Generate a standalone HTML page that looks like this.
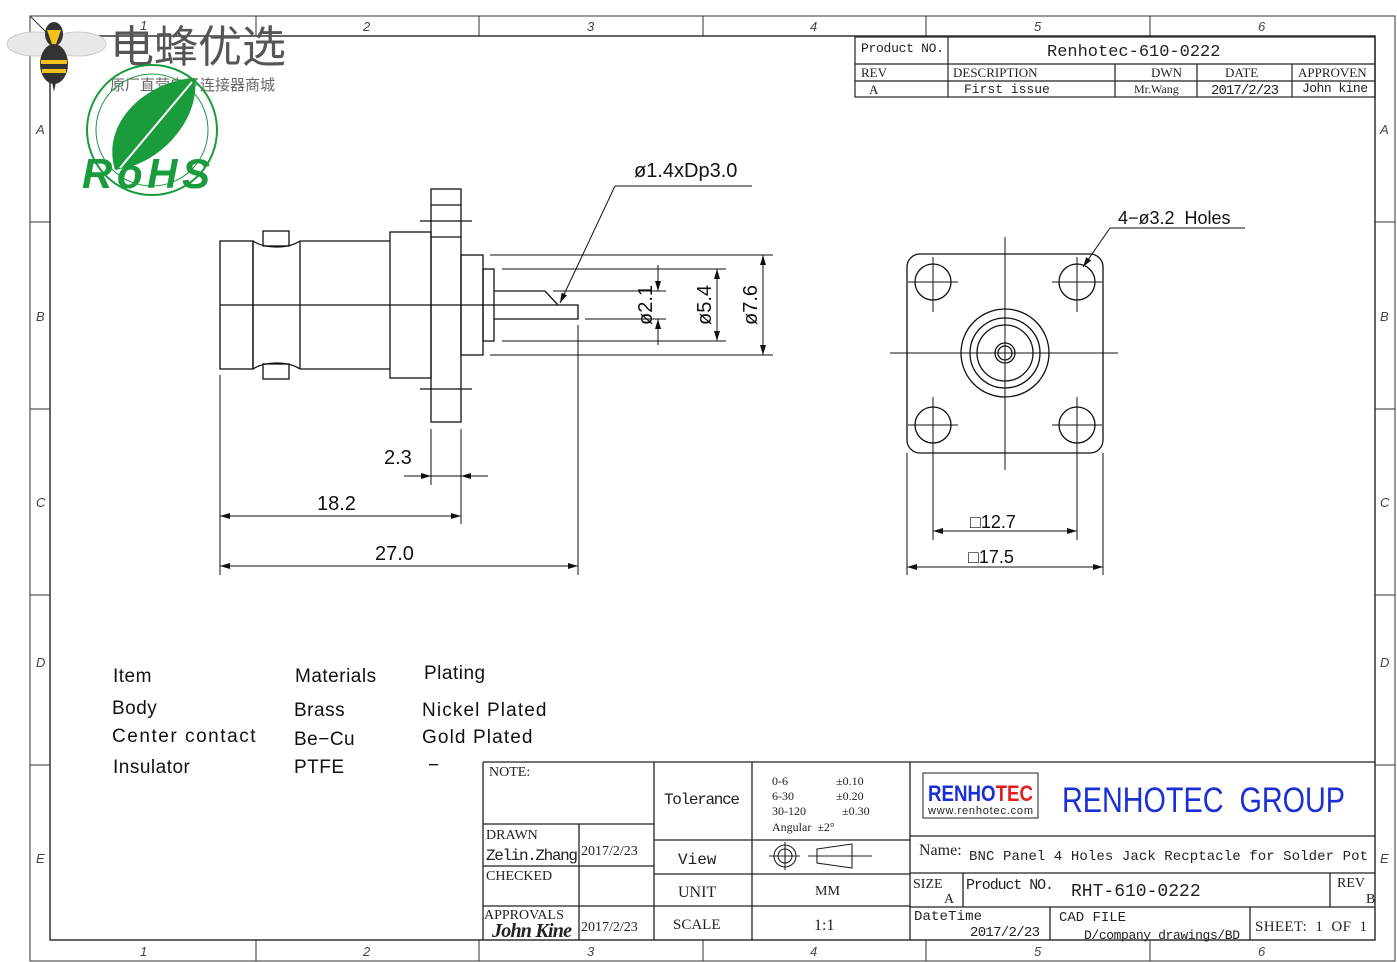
<!DOCTYPE html>
<html><head><meta charset="utf-8"><style>
html,body{margin:0;padding:0;background:#fff;}
svg{display:block;font-family:"Liberation Sans","Noto Sans CJK SC",sans-serif;}
</style></head><body>
<svg width="1397" height="962" viewBox="0 0 1397 962" xmlns="http://www.w3.org/2000/svg">
<defs>
<marker id="ar" viewBox="0 0 10 6" refX="10" refY="3" markerWidth="10" markerHeight="6" orient="auto-start-reverse" markerUnits="userSpaceOnUse"><path d="M0,0 L10,3 L0,6 Z" fill="#111"/></marker>
</defs>
<g fill="none" stroke="#333" stroke-width="1">
<rect x="30" y="16" width="1365" height="945"/>
<rect x="50" y="36" width="1325" height="904" stroke-width="1.5"/>
<path d="M256,16V36 M479,16V36 M703,16V36 M926,16V36 M1150,16V36 M256,940V961 M479,940V961 M703,940V961 M926,940V961 M1150,940V961"/>
<path d="M30,222H50 M30,409H50 M30,595H50 M30,765H50 M1375,222H1395 M1375,409H1395 M1375,595H1395 M1375,765H1395"/>
<path d="M30,16L50,36"/>
</g>
<g font-size="13" fill="#444" font-style="italic">
<text x="140" y="30">1</text><text x="363" y="31">2</text><text x="587" y="31">3</text><text x="810" y="31">4</text><text x="1034" y="31">5</text><text x="1258" y="31">6</text>
<text x="140" y="956">1</text><text x="363" y="956">2</text><text x="587" y="956">3</text><text x="810" y="956">4</text><text x="1034" y="956">5</text><text x="1258" y="956">6</text>
<text x="36" y="134">A</text><text x="36" y="321">B</text><text x="36" y="507">C</text><text x="36" y="667">D</text><text x="36" y="863">E</text>
<text x="1380" y="134">A</text><text x="1380" y="321">B</text><text x="1380" y="507">C</text><text x="1380" y="667">D</text><text x="1380" y="863">E</text>
</g>

<!-- logos -->
<g>
<ellipse cx="35" cy="44" rx="28" ry="12" fill="#e8e8e8" stroke="#ccc"/>
<ellipse cx="78" cy="44" rx="28" ry="12" fill="#e8e8e8" stroke="#ccc"/>
<ellipse cx="54" cy="34" rx="9" ry="12" fill="#333"/>
<path d="M47,30 L54,50 L61,30 Z" fill="#f2c21b"/>
<ellipse cx="54" cy="64" rx="14" ry="20" fill="#333"/>
<rect x="41" y="60" width="26" height="4" fill="#f2c21b"/><rect x="42" y="69" width="24" height="4" fill="#f2c21b"/>
<path d="M52,82 L54,92 L56,82Z" fill="#333"/>
<text x="110" y="62" font-size="44" fill="#555">电蜂优选</text>
<text x="110" y="90" font-size="15" fill="#666">原厂直营电子连接器商城</text>
<circle cx="152" cy="130" r="65" fill="none" stroke="#1a9b3c" stroke-width="2"/>
<circle cx="152" cy="130" r="56" fill="none" stroke="#1a9b3c" stroke-width="1"/>
<path d="M115,170 C100,120 150,80 195,78 C200,120 160,165 115,170Z" fill="#1a9b3c"/>
<path d="M120,168 L192,82" stroke="#fff" stroke-width="2"/>
<text x="82" y="188" font-size="42" font-weight="bold" font-style="italic" fill="#1a9b3c" textLength="128">RoHS</text>
</g>

<!-- top rev block -->
<g fill="none" stroke="#222" stroke-width="1.2">
<rect x="855" y="37" width="520" height="60"/>
<path d="M855,64H1375 M855,81H1375 M948,37V97 M1115,64V97 M1197,64V97 M1292,64V97"/>
</g>
<g fill="#222">
<text x="861" y="52" font-size="13" font-family="Liberation Mono" textLength="83">Product NO.</text>
<text x="1047" y="56" font-size="17" font-family="Liberation Mono">Renhotec-610-0222</text>
<text x="861" y="77" font-size="13" font-family="Liberation Serif">REV</text>
<text x="953" y="77" font-size="13" font-family="Liberation Serif">DESCRIPTION</text>
<text x="1151" y="77" font-size="13" font-family="Liberation Serif">DWN</text>
<text x="1225" y="77" font-size="13" font-family="Liberation Serif">DATE</text>
<text x="1298" y="77" font-size="13" font-family="Liberation Serif">APPROVEN</text>
<text x="869" y="94" font-size="13" font-family="Liberation Serif">A</text>
<text x="964" y="93" font-size="13" font-family="Liberation Mono">First issue</text>
<text x="1134" y="93" font-size="12" font-family="Liberation Serif">Mr.Wang</text>
<text x="1211" y="94" font-size="14" font-family="Liberation Mono" textLength="68">2017/2/23</text>
<text x="1302" y="92" font-size="13" font-family="Liberation Mono" textLength="66">John kine</text>
</g>

<!-- side view -->
<g fill="none" stroke="#111" stroke-width="1.3">
<rect x="220" y="241" width="33" height="128"/>
<path d="M253,241 C265,249 288,249 300,241 M253,369 C265,361 288,361 300,369 M253,241V369 M300,241V369"/>
<rect x="263" y="231" width="26" height="15"/>
<rect x="263" y="364" width="26" height="15"/>
<path d="M300,241H390 M300,369H390"/>
<rect x="390" y="232" width="41" height="146"/>
<rect x="431" y="189" width="30" height="233"/>
<path d="M431,205H461 M431,237H461 M420,221H472 M420,389H472"/>
<rect x="461" y="255" width="22" height="100"/>
<rect x="483" y="269" width="11" height="72"/>
<path d="M494,291H545 L558,305 M494,305H578V319H494"/>
<path d="M220,305H494"/>
<path d="M490,255H773 M502,269H726 M553,291H666 M585,319H666 M502,341H726 M490,355H773" stroke-width="1"/>
<path d="M220,375V575 M578,325V575 M431,429V485 M461,429V524" stroke-width="1"/>
<path d="M658,265V291" marker-end="url(#ar)" stroke-width="1"/>
<path d="M658,345V319" marker-end="url(#ar)" stroke-width="1"/>
<path d="M717,269V341" marker-start="url(#ar)" marker-end="url(#ar)" stroke-width="1"/>
<path d="M763,255V355" marker-start="url(#ar)" marker-end="url(#ar)" stroke-width="1"/>
<path d="M615,186L560,303" marker-end="url(#ar)" stroke-width="1"/>
<path d="M615,186H752" stroke-width="1"/>
<path d="M404,476H431" marker-end="url(#ar)" stroke-width="1"/>
<path d="M488,476H461" marker-end="url(#ar)" stroke-width="1"/>
<path d="M431,476H461" stroke-width="1"/>
<path d="M220,516H461" marker-start="url(#ar)" marker-end="url(#ar)" stroke-width="1"/>
<path d="M220,566H578" marker-start="url(#ar)" marker-end="url(#ar)" stroke-width="1"/>
</g>
<g font-size="20" fill="#111">
<text x="634" y="177">ø1.4xDp3.0</text>
<text x="384" y="464">2.3</text>
<text x="317" y="510">18.2</text>
<text x="375" y="560">27.0</text>
<text transform="translate(652,305) rotate(-90)" text-anchor="middle">ø2.1</text>
<text transform="translate(711,305) rotate(-90)" text-anchor="middle">ø5.4</text>
<text transform="translate(757,305) rotate(-90)" text-anchor="middle">ø7.6</text>
</g>

<!-- front view -->
<g fill="none" stroke="#111" stroke-width="1.3">
<rect x="907" y="254" width="196" height="199" rx="13"/>
<circle cx="933" cy="282" r="18"/><circle cx="1077" cy="282" r="18"/>
<circle cx="933" cy="425" r="18"/><circle cx="1077" cy="425" r="18"/>
<circle cx="1005" cy="353" r="44"/><circle cx="1005" cy="353" r="35"/><circle cx="1005" cy="353" r="28"/>
<circle cx="1005" cy="353" r="10"/><circle cx="1005" cy="353" r="7"/>
<g stroke-width="1">
<path d="M1005,237V470 M890,353H1118"/>
<path d="M908,282H958 M933,257V312 M1052,282H1102 M1077,257V312 M908,425H958 M933,397V450 M1052,425H1102 M1077,397V450"/>
<path d="M907,453V575 M1103,453V575 M933,450V540 M1077,450V540"/>
<path d="M933,531H1077" marker-start="url(#ar)" marker-end="url(#ar)"/>
<path d="M907,567H1103" marker-start="url(#ar)" marker-end="url(#ar)"/>
<path d="M1110,228L1083,267" marker-end="url(#ar)"/>
<path d="M1110,228H1245"/>
</g>
</g>
<g font-size="18" fill="#111">
<text x="1118" y="224" xml:space="preserve">4−ø3.2  Holes</text>
<text x="970" y="528">□12.7</text>
<text x="968" y="563">□17.5</text>
</g>

<!-- materials -->
<g font-size="19" fill="#111" letter-spacing="0.5" xml:space="preserve">
<text x="113" y="682">Item</text><text x="295" y="682">Materials</text><text x="424" y="679">Plating</text>
<text x="112" y="714">Body</text><text x="294" y="716">Brass</text><text x="422" y="716" textLength="125">Nickel  Plated</text>
<text x="112" y="742" textLength="144">Center  contact</text><text x="294" y="745">Be−Cu</text><text x="422" y="743" textLength="111">Gold  Plated</text>
<text x="113" y="773">Insulator</text><text x="294" y="773">PTFE</text><text x="428" y="771">−</text>
</g>

<!-- bottom title block -->
<g fill="none" stroke="#222" stroke-width="1.3">
<path d="M483,762H1375 M483,762V940 M579,824V940 M654,762V940 M752,762V940 M910,762V940"/>
<path d="M483,824H654 M483,866H654 M483,906H654 M654,840H910 M654,874H910 M654,906H910"/>
<path d="M910,836H1375 M910,873H1375 M910,907H1375 M963,873V907 M1330,873V907 M1050,907V940 M1250,907V940"/>
<rect x="923" y="773" width="115" height="45" stroke-width="1"/>
</g>
<g fill="#222">
<text x="489" y="776" font-size="14" font-family="Liberation Serif">NOTE:</text>
<text x="664" y="804" font-size="16" font-family="Liberation Mono" textLength="76">Tolerance</text>
<text x="772" y="785" font-size="12" font-family="Liberation Serif">0-6</text><text x="836" y="785" font-size="12" font-family="Liberation Serif">±0.10</text>
<text x="772" y="800" font-size="12" font-family="Liberation Serif">6-30</text><text x="836" y="800" font-size="12" font-family="Liberation Serif">±0.20</text>
<text x="772" y="815" font-size="12" font-family="Liberation Serif">30-120</text><text x="842" y="815" font-size="12" font-family="Liberation Serif">±0.30</text>
<text x="772" y="831" font-size="12" font-family="Liberation Serif" xml:space="preserve">Angular  ±2°</text>
<text x="486" y="839" font-size="14" font-family="Liberation Serif">DRAWN</text>
<text x="486" y="860" font-size="16" font-family="Liberation Mono" textLength="92">Zelin.Zhang</text>
<text x="581" y="855" font-size="14" font-family="Liberation Serif">2017/2/23</text>
<text x="486" y="880" font-size="14" font-family="Liberation Serif">CHECKED</text>
<text x="678" y="864" font-size="16" font-family="Liberation Mono">View</text>
<text x="678" y="897" font-size="16" font-family="Liberation Serif">UNIT</text>
<text x="815" y="895" font-size="14" font-family="Liberation Serif">MM</text>
<text x="484" y="919" font-size="14" font-family="Liberation Serif">APPROVALS</text>
<text x="492" y="937" font-size="20" font-style="italic" font-weight="bold" font-family="Liberation Serif" textLength="80">John Kine</text>
<text x="581" y="931" font-size="14" font-family="Liberation Serif">2017/2/23</text>
<text x="673" y="929" font-size="15" font-family="Liberation Serif">SCALE</text>
<text x="814" y="930" font-size="16" font-family="Liberation Serif">1:1</text>
</g>
<g fill="none" stroke="#222" stroke-width="1.1">
<circle cx="785" cy="856" r="11"/><circle cx="785" cy="856" r="7"/>
<path d="M769,856H800 M785,842V870 M808,856H872 M817,849L852,844V868L817,863Z"/>
</g>
<text x="928" y="801" font-size="22" font-weight="bold" fill="#1a2fd6" textLength="105" lengthAdjust="spacingAndGlyphs">RENHO<tspan fill="#e0201c">TEC</tspan></text>
<text x="928" y="814" font-size="11" fill="#222" textLength="105">www.renhotec.com</text>
<text x="1062" y="812" font-size="35" fill="#1a2fd6" textLength="283" lengthAdjust="spacingAndGlyphs" xml:space="preserve">RENHOTEC  GROUP</text>
<g fill="#222">
<text x="919" y="855" font-size="16" font-family="Liberation Serif">Name:</text>
<text x="969" y="860" font-size="14" font-family="Liberation Mono" textLength="399">BNC Panel 4 Holes Jack Recptacle for Solder Pot</text>
<text x="913" y="888" font-size="14" font-family="Liberation Serif">SIZE</text>
<text x="944" y="903" font-size="14" font-family="Liberation Serif">A</text>
<text x="966" y="889" font-size="15" font-family="Liberation Mono" textLength="88">Product NO.</text>
<text x="1071" y="896" font-size="18" font-family="Liberation Mono">RHT-610-0222</text>
<text x="1337" y="887" font-size="14" font-family="Liberation Serif">REV</text>
<text x="1366" y="903" font-size="14" font-family="Liberation Serif">B</text>
<text x="914" y="920" font-size="14" font-family="Liberation Mono" textLength="68">DateTime</text>
<text x="970" y="936" font-size="14" font-family="Liberation Mono" textLength="70">2017/2/23</text>
<text x="1059" y="921" font-size="14" font-family="Liberation Mono" textLength="67">CAD FILE</text>
<text x="1084" y="939" font-size="13" font-family="Liberation Mono" textLength="156">D/company drawings/BD</text>
<text x="1255" y="931" font-size="15" font-family="Liberation Serif" xml:space="preserve" textLength="112">SHEET:  1  OF  1</text>
</g>
</svg>
</body></html>
